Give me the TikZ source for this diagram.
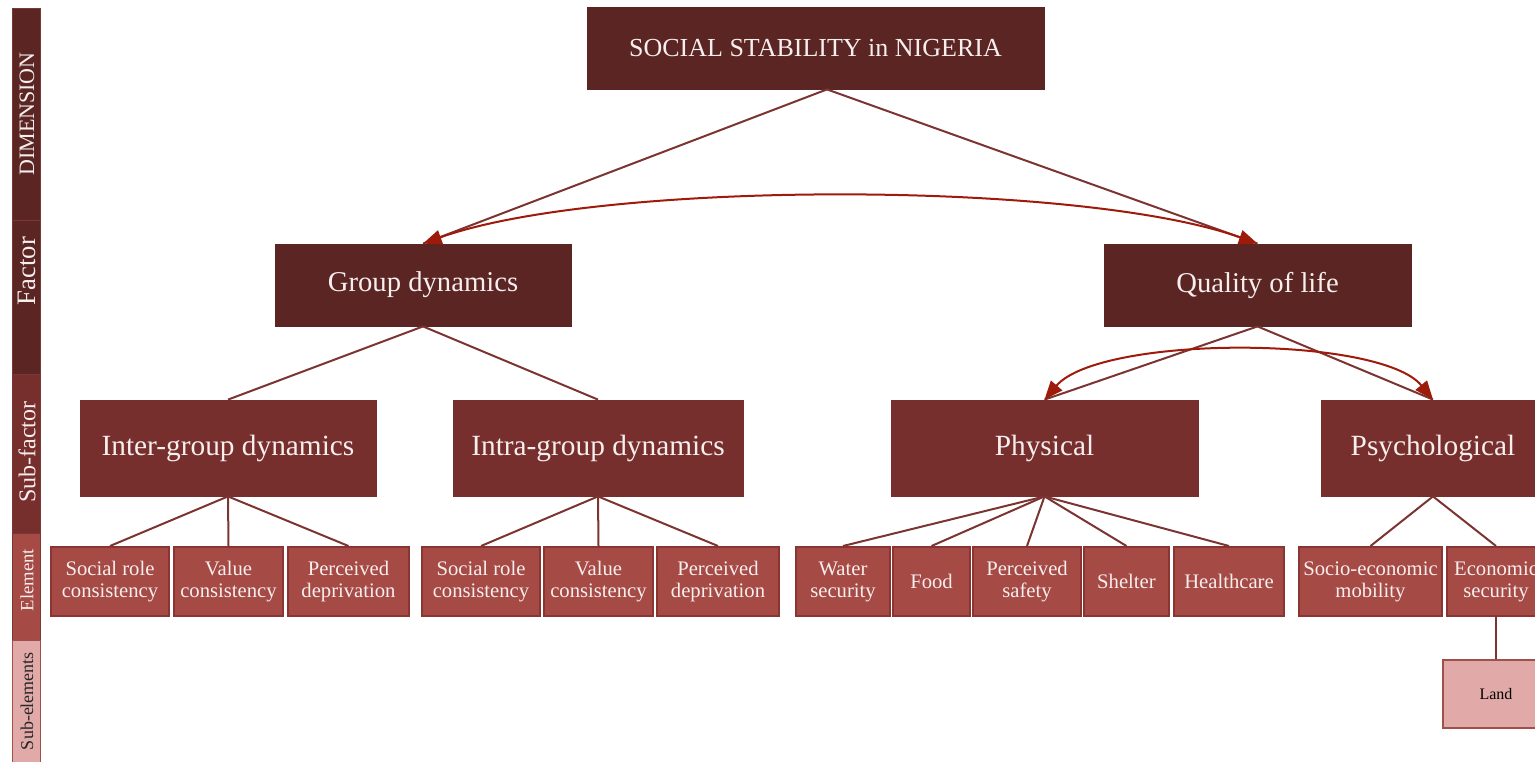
\documentclass[tikz,border=0pt]{standalone}
\usepackage{fontspec}
\setmainfont{Liberation Serif}
\usetikzlibrary{arrows.meta,calc}

\definecolor{darkmaroon}{HTML}{5A2522}
\definecolor{midmaroon}{HTML}{772F2E}
\definecolor{brick}{HTML}{A54A45}
\definecolor{brickedge}{HTML}{8A3531}
\definecolor{rose}{HTML}{E1A9A7}
\definecolor{roseedge}{HTML}{A0504B}
\definecolor{linkcol}{HTML}{7B3431}
\definecolor{arccol}{HTML}{9E1A0A}
\definecolor{bandedge}{HTML}{7A3834}
\definecolor{paletext}{HTML}{F7EEEE}

\tikzset{
  basebox/.style={rectangle, inner sep=0pt, align=center, text=paletext},
  dimbox/.style={basebox, fill=darkmaroon, draw=darkmaroon, line width=0.6pt,
    minimum height=61.5pt, font=\fontsize{19.5}{22}\selectfont},
  factorbox/.style={basebox, fill=darkmaroon, draw=darkmaroon, line width=0.6pt,
    minimum height=61.5pt, font=\fontsize{21.5}{24}\selectfont},
  subbox/.style={basebox, fill=midmaroon, draw=midmaroon, line width=0.6pt,
    minimum height=72pt, font=\fontsize{22}{25}\selectfont},
  elembox/.style={basebox, fill=brick, draw=brickedge, line width=1.5pt,
    minimum height=51.75pt, font=\fontsize{15.5}{16.5}\selectfont},
  subelembox/.style={basebox, fill=rose, draw=roseedge, line width=1.5pt,
    minimum height=51pt, text=black, font=\fontsize{12}{14}\selectfont},
  link/.style={draw=linkcol, line width=1.5pt},
  twoway/.style={draw=arccol, line width=1.5pt,
    {Triangle[length=14pt,width=11pt]}-{Triangle[length=14pt,width=11pt]}},
  bandtext/.style={rotate=90, inner sep=0pt, text=paletext},
  band/.style={draw=bandedge, line width=0.6pt}
}

\begin{document}
\begin{tikzpicture}[x=0.75pt, y=-0.75pt]
\useasboundingbox (0,0) rectangle (1535,761);
\clip (0,0) rectangle (1535,761);

% level bar on the left
\filldraw[band, fill=darkmaroon] (12,8) rectangle (40,220);
\filldraw[band, fill=darkmaroon] (12,220) rectangle (40,374);
\filldraw[band, fill=midmaroon] (12,374) rectangle (40,533);
\filldraw[band, fill=brick] (12,533) rectangle (40,640);
\filldraw[band, fill=rose, draw=roseedge] (12,640) rectangle (40,770);
\node[bandtext, font=\fontsize{16.5}{18}\selectfont] (lvdim) at (27,114) {DIMENSION};
\node[bandtext, font=\fontsize{20}{22}\selectfont] (lvfac) at (27,271) {Factor};
\node[bandtext, font=\fontsize{18}{20}\selectfont] (lvsub) at (27,452) {Sub-factor};
\node[bandtext, font=\fontsize{14}{16}\selectfont] (lvel) at (27,580) {Element};
\node[bandtext, text=black!85, font=\fontsize{13.5}{15}\selectfont] (lvsel) at (27,701) {Sub-elements};

% dimension and factors
\node[dimbox, minimum width=342.75pt] (top) at (815.5,48) {SOCIAL STABILITY in NIGERIA};
\node[factorbox, minimum width=222pt] (gd) at (423,285) {\raisebox{-2pt}{Group dynamics}};
\node[factorbox, minimum width=230.25pt] (qol) at (1257.5,285) {\raisebox{-2pt}{Quality of life}};

% sub-factors
\node[subbox, minimum width=222pt] (inter) at (228,448) {\raisebox{-2pt}{Inter-group dynamics}};
\node[subbox, minimum width=217.5pt] (intra) at (598,448) {\raisebox{-2pt}{Intra-group dynamics}};
\node[subbox, minimum width=230.25pt] (phys) at (1044.5,448) {Physical};
\node[subbox, minimum width=168pt] (psych) at (1433,448) {Psychological};

% elements
\node[elembox, minimum width=88.5pt] (e1) at (110,581.5) {Social role\\consistency};
\node[elembox, minimum width=81.75pt] (e2) at (228.5,581.5) {Value\\consistency};
\node[elembox, minimum width=90.75pt] (e3) at (348.5,581.5) {Perceived\\deprivation};
\node[elembox, minimum width=88.5pt] (e4) at (481,581.5) {Social role\\consistency};
\node[elembox, minimum width=81.75pt] (e5) at (598.5,581.5) {Value\\consistency};
\node[elembox, minimum width=91.5pt] (e6) at (718,581.5) {Perceived\\deprivation};
\node[elembox, minimum width=70.5pt] (water) at (843,581.5) {Water\\security};
\node[elembox, minimum width=57.75pt] (food) at (931.5,581.5) {Food};
\node[elembox, minimum width=81pt] (safety) at (1027,581.5) {Perceived\\safety};
\node[elembox, minimum width=63.75pt] (shelter) at (1126.5,581.5) {Shelter};
\node[elembox, minimum width=82.5pt] (health) at (1229,581.5) {Healthcare};
\node[elembox, minimum width=107.25pt] (socio) at (1370.5,581.5) {Socio-economic\\mobility};
\node[elembox, minimum width=73.5pt] (econ) at (1496,581.5) {Economic\\security};

% sub-element
\node[subelembox, minimum width=79.5pt] (land) at (1496,694) {Land};

% hierarchy links
\draw[link] ($(top.south)+(11.5,0)$) -- (gd.north);
\draw[link] ($(top.south)+(11.5,0)$) -- (qol.north);
\draw[link] (gd.south) -- (inter.north);
\draw[link] (gd.south) -- (intra.north);
\draw[link] (qol.south) -- (phys.north);
\draw[link] (qol.south) -- (psych.north);
\foreach \e in {e1,e2,e3} \draw[link] (inter.south) -- (\e.north);
\foreach \e in {e4,e5,e6} \draw[link] (intra.south) -- (\e.north);
\foreach \e in {water,food,safety,shelter,health} \draw[link] (phys.south) -- (\e.north);
\foreach \e in {socio,econ} \draw[link] (psych.south) -- (\e.north);
\draw[link] (econ.south) -- (land.north);

% two-way relations
\draw[twoway] (gd.north) .. controls (600,180) and (1080,180) .. (qol.north);
\draw[twoway] (phys.north) .. controls (1100,335) and (1380,335) .. (psych.north);
\end{tikzpicture}
\end{document}
